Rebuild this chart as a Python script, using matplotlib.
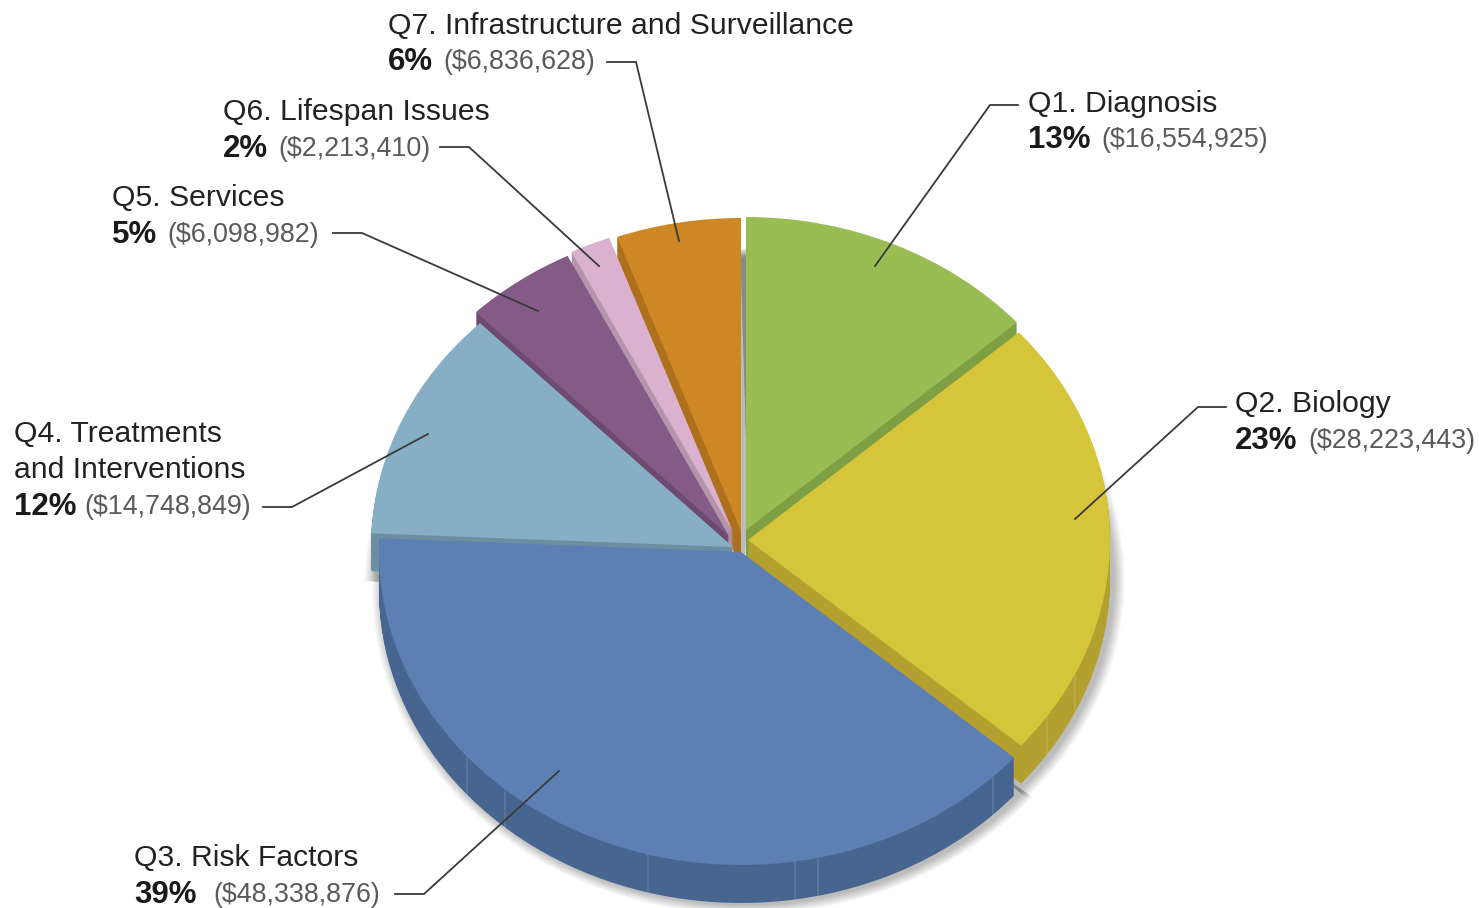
import numpy as np
import matplotlib.pyplot as plt
from matplotlib.patches import Wedge
from matplotlib.transforms import Affine2D

plt.rcParams['font.family'] = ['Liberation Sans', 'DejaVu Sans']

names = ['Q1. Diagnosis', 'Q2. Biology', 'Q3. Risk Factors', 'Q4. Treatments\nand Interventions',
         'Q5. Services', 'Q6. Lifespan Issues', 'Q7. Infrastructure and Surveillance']
dollars = [16554925, 28223443, 48338876, 14748849, 6098982, 2213410, 6836628]
percents = ['13%', '23%', '39%', '12%', '5%', '2%', '6%']
amounts = ['($16,554,925)', '($28,223,443)', '($48,338,876)', '($14,748,849)',
           '($6,098,982)', '($2,213,410)', '($6,836,628)']

top_colors = ['#9ABD53', '#D6C43A', '#5C80B4', '#86AEC4', '#845A87', '#DBB1D0', '#CD8725']
wall_colors = ['#7F9F45', '#B3A02F', '#47668F', '#6C8EA1', '#6D4A70', '#B495AC', '#AD701D']

# the slices are pulled apart a bit, every one has its own centre (image pixels)
centers = [(746, 530), (748, 540), (741, 552), (733, 547), (729, 536), (733, 532), (741, 531)]
draw_order = [6, 0, 5, 4, 3, 1, 2]  # back to front
rx, ry = 362, 313
depth = 38

# label x, amount x, y of first line, y of last line
label_pos = [(1028, 1101, 104, 140), (1235, 1308, 404, 441), (134, 213, 858, 895), (14, 84, 434, 507),
             (112, 167, 198, 235), (223, 278, 112, 149), (388, 443, 26, 62)]
leaders = [[(1018, 105), (990, 105), (875, 266)],
           [(1226, 407), (1198, 407), (1075, 519)],
           [(395, 894), (424, 894), (559, 771)],
           [(263, 507), (292, 507), (428, 434)],
           [(333, 233), (362, 233), (538, 311)],
           [(440, 147), (469, 147), (599, 266)],
           [(607, 62), (636, 62), (679, 241)]]
# faint seams on the outer wall: slice index, x
seams = [(2, 467), (2, 505), (2, 648), (2, 795), (2, 818), (2, 993), (1, 1047), (1, 1075)]

fig = plt.figure(figsize=(14.79, 9.08), dpi=100)
ax = fig.add_axes([0, 0, 1, 1])

wedges, _ = ax.pie(dollars, colors=top_colors, startangle=90, counterclock=False, radius=1)
ax.set_aspect('auto')
ax.set_xlim(0, 1479)
ax.set_ylim(908, 0)
ax.axis('off')


def slice_transform(i, dx=0, dy=0, grow=1.0):
    cx, cy = centers[i]
    return Affine2D().scale(rx * grow, -ry * grow).translate(cx + dx, cy + dy) + ax.transData


# soft shadow under the pie, a bit wider than the slices so it closes the notches
for grow in np.linspace(1.03, 1.0, 14):
    for i, w in enumerate(wedges):
        s = Wedge((0, 0), 1, w.theta1 - 1.5, w.theta2 + 1.5, color='black', alpha=0.018, lw=0, zorder=1)
        s.set_transform(slice_transform(i, 4, depth + 2, grow))
        ax.add_patch(s)

z = 2
for i in draw_order:
    w = wedges[i]
    for off in np.arange(depth, 0, -1):
        side = Wedge((0, 0), 1, w.theta1, w.theta2, facecolor=wall_colors[i], lw=0, zorder=z)
        side.set_transform(slice_transform(i, 0, off))
        ax.add_patch(side)
    for si, sx in seams:
        if si == i:
            cx, cy = centers[i]
            y0 = cy + ry * np.sqrt(1 - ((sx - cx) / rx) ** 2)
            ax.plot([sx, sx], [y0, y0 + depth], color='white', alpha=0.12, lw=1.2, zorder=z + 0.5)
    w.set_transform(slice_transform(i))
    w.set_linewidth(0)
    w.set_zorder(z + 1)
    z += 2

for pts in leaders:
    xs, ys = zip(*pts)
    ax.plot(xs, ys, color='#3A3A3A', lw=1.3, zorder=50, solid_joinstyle='miter')

for name, pct, amt, (x, xa, y0, y1) in zip(names, percents, amounts, label_pos):
    lines = name.split('\n')
    for k, line in enumerate(lines):
        ax.text(x, y0 + k * 36, line, fontsize=21.7, color='#222222', va='center', ha='left', zorder=60)
    ax.text(x, y1, pct, fontsize=22.5, fontweight='bold', color='#1A1A1A', va='center', ha='left', zorder=60)
    ax.text(xa, y1, amt, fontsize=19.4, color='#5A5A5A', va='center', ha='left', zorder=60)

fig.savefig('out.png', dpi=100)
